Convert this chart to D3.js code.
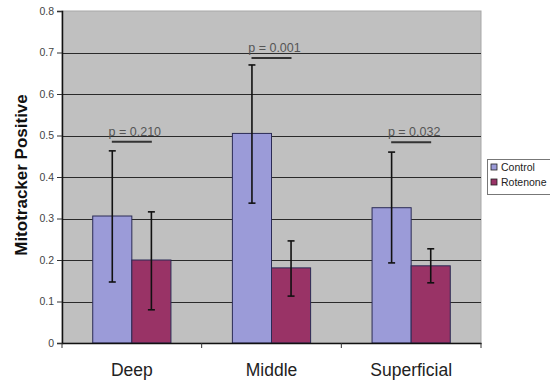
<!DOCTYPE html>
<html>
	<meta charset="utf-8" />
	<style>
		html,
		body,
		svg {
			padding: 0px;
			margin: 0px;
			background: #fff;
		}
		text {
			font-family: Arial, "Liberation Sans", sans-serif;
		}
	</style>
	<svg width="550" height="382"></svg>
	<script src="https://d3js.org/d3.v7.min.js"></script>
	<script>
		var categories = ["Deep", "Middle", "Superficial"];
		var series = ["Control", "Rotenone"];
		var control = [0.306, 0.505, 0.326];
		var controlLow = [0.147, 0.337, 0.193];
		var controlHigh = [0.463, 0.67, 0.46];
		var rotenone = [0.2, 0.181, 0.186];
		var rotenoneLow = [0.08, 0.113, 0.145];
		var rotenoneHigh = [0.316, 0.246, 0.227];
		var pLabels = ["p = 0.210", "p = 0.001", "p = 0.032"];
		var pLevels = [0.485, 0.687, 0.484];
		var yTicks = [0, 0.1, 0.2, 0.3, 0.4, 0.5, 0.6, 0.7, 0.8];

		var colors = { Control: "#9b9bd8", Rotenone: "#993366" };

		var svg = d3.select("svg");
		// note: "top" is a reserved window prop, so use plot* names
		var plotLeft = 62,
			plotRight = 481,
			plotTop = 11,
			plotBottom = 343;

		var x0 = d3.scaleBand().domain(categories).range([plotLeft, plotRight]).padding(0);
		var bw = x0.bandwidth();
		var x1 = d3.scaleBand().domain(series).range([bw * 0.22, bw * 0.78]).padding(0);
		var y = d3.scaleLinear().domain([0, 0.8]).range([plotBottom, plotTop]);

		// build rows
		var rows = [];
		categories.forEach(function (c, i) {
			rows.push({ cat: c, s: "Control", v: control[i], lo: controlLow[i], hi: controlHigh[i] });
			rows.push({ cat: c, s: "Rotenone", v: rotenone[i], lo: rotenoneLow[i], hi: rotenoneHigh[i] });
		});

		// plot background
		svg.append("rect")
			.attr("x", plotLeft)
			.attr("y", plotTop)
			.attr("width", plotRight - plotLeft)
			.attr("height", plotBottom - plotTop)
			.attr("fill", "#c0c0c0")
			.attr("stroke", "#a8a8a8")
			.attr("stroke-width", 1);

		// gridlines
		svg.append("g")
			.selectAll("line")
			.data(yTicks.slice(1, -1))
			.enter()
			.append("line")
			.attr("x1", plotLeft)
			.attr("x2", plotRight)
			.attr("y1", function (d) { return Math.round(y(d)) + 0.5; })
			.attr("y2", function (d) { return Math.round(y(d)) + 0.5; })
			.attr("stroke", "#2a2a2a")
			.attr("stroke-width", 1.2);

		// bars
		svg.append("g")
			.selectAll("rect")
			.data(rows)
			.enter()
			.append("rect")
			.attr("x", function (d) { return x0(d.cat) + x1(d.s); })
			.attr("y", function (d) { return y(d.v); })
			.attr("width", x1.bandwidth())
			.attr("height", function (d) { return y(0) - y(d.v); })
			.attr("fill", function (d) { return colors[d.s]; })
			.attr("stroke", "#2b2b55")
			.attr("stroke-width", 1);

		// error bars
		var err = svg.append("g").attr("stroke", "#111").attr("stroke-width", 1.6);
		rows.forEach(function (d) {
			var cx = x0(d.cat) + x1(d.s) + x1.bandwidth() / 2;
			err.append("line").attr("x1", cx).attr("x2", cx).attr("y1", y(d.hi)).attr("y2", y(d.lo));
			err.append("line").attr("x1", cx - 3.5).attr("x2", cx + 3.5).attr("y1", y(d.hi)).attr("y2", y(d.hi));
			err.append("line").attr("x1", cx - 3.5).attr("x2", cx + 3.5).attr("y1", y(d.lo)).attr("y2", y(d.lo));
		});

		// p value annotations
		categories.forEach(function (c, i) {
			var cx = x0(c) + bw / 2;
			svg.append("line")
				.attr("x1", cx - 20)
				.attr("x2", cx + 20)
				.attr("y1", y(pLevels[i]))
				.attr("y2", y(pLevels[i]))
				.attr("stroke", "#333")
				.attr("stroke-width", 2);
			svg.append("text")
				.attr("x", cx + 3)
				.attr("y", y(pLevels[i]) - 6)
				.attr("text-anchor", "middle")
				.attr("font-size", "12.5px")
				.attr("fill", "#555")
				.text(pLabels[i]);
		});

		// y axis
		var yAxis = svg.append("g")
			.attr("transform", "translate(" + plotLeft + ",0)")
			.call(d3.axisLeft(y).tickValues(yTicks).tickSize(5).tickPadding(3).tickFormat(function (d) { return d === 0 ? "0" : d3.format(".1f")(d); }));
		yAxis.select(".domain").attr("stroke", "#111").attr("stroke-width", 1.5);
		yAxis.selectAll(".tick line").attr("stroke", "#333");
		yAxis.selectAll("text").attr("font-size", "10.5px").attr("fill", "#444").attr("font-family", "Arial, sans-serif");

		// x axis
		var xAxis = svg.append("g")
			.attr("transform", "translate(0," + plotBottom + ")")
			.call(d3.axisBottom(x0).tickSize(0).tickPadding(21));
		xAxis.select(".domain").attr("stroke", "#111").attr("stroke-width", 1.5);
		xAxis.selectAll("text").attr("font-size", "17.5px").attr("fill", "#222").attr("font-family", "Arial, sans-serif");
		svg.append("g")
			.selectAll("line")
			.data(categories.concat(["end"]))
			.enter()
			.append("line")
			.attr("x1", function (d) { return d === "end" ? plotRight : x0(d); })
			.attr("x2", function (d) { return d === "end" ? plotRight : x0(d); })
			.attr("y1", plotBottom)
			.attr("y2", plotBottom + 5)
			.attr("stroke", "#333");

		// y title
		svg.append("text")
			.attr("transform", "translate(27,175) rotate(-90)")
			.attr("text-anchor", "middle")
			.attr("font-size", "17px")
			.attr("font-weight", "bold")
			.attr("fill", "#111")
			.text("Mitotracker Positive");

		// legend
		var legend = svg.append("g");
		legend.append("rect")
			.attr("x", 487.5)
			.attr("y", 159.5)
			.attr("width", 70)
			.attr("height", 35)
			.attr("fill", "#fff")
			.attr("stroke", "#777");
		series.forEach(function (s, i) {
			legend.append("rect")
				.attr("x", 491)
				.attr("y", 164 + i * 15)
				.attr("width", 6)
				.attr("height", 6)
				.attr("fill", colors[s])
				.attr("stroke", "#222")
				.attr("stroke-width", 0.8);
			legend.append("text")
				.attr("x", 501)
				.attr("y", 171 + i * 15)
				.attr("font-size", "10.5px")
				.attr("fill", "#222")
				.text(s);
		});
	</script>
</html>
